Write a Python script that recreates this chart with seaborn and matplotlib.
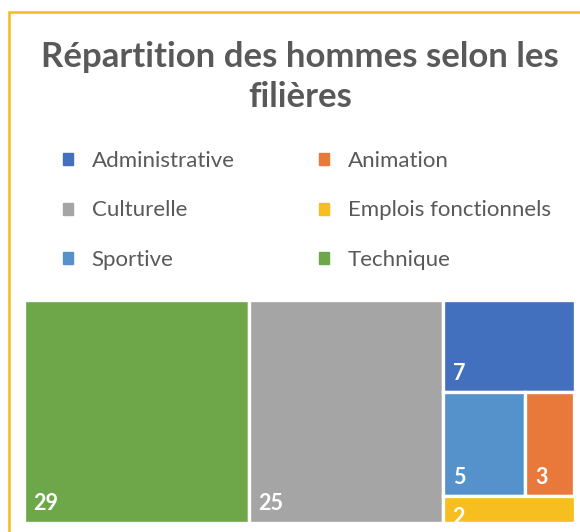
# %%
## Treemap : répartition des hommes selon les filières

import seaborn as sns
import matplotlib.pyplot as plt
from matplotlib.patches import Rectangle, Patch

# %%
## Données

filieres = ['Administrative', 'Animation', 'Culturelle',
            'Emplois fonctionnels', 'Sportive', 'Technique']
effectifs = [7, 3, 25, 2, 5, 29]
couleurs = ['#4270BE', '#E8793A', '#A5A5A5', '#F6BE1E', '#5592CB', '#6EA74A']

# organisation des blocs (h = côte à côte, v = empilés)
structure = ('h', ['Technique', 'Culturelle',
                   ('v', ['Administrative',
                          ('h', ['Sportive', 'Animation']),
                          'Emplois fonctionnels'])])

valeurs = dict(zip(filieres, effectifs))
col = dict(zip(filieres, couleurs))

# %%
def total(noeud):
    if isinstance(noeud, str):
        return valeurs[noeud]
    return sum(total(n) for n in noeud[1])

def decoupe(noeud, x, y, w, h, res):
    # y = bord haut, on descend
    if isinstance(noeud, str):
        res.append((noeud, x, y - h, w, h))
        return
    sens, enfants = noeud
    tot = total(noeud)
    for e in enfants:
        f = total(e) / tot
        if sens == 'h':
            decoupe(e, x, y, w * f, h, res)
            x += w * f
        else:
            decoupe(e, x, y, w, h * f, res)
            y -= h * f

blocs = []
decoupe(structure, 0, 1, 1, 1, blocs)

# %%
sns.set_theme(style='white')
plt.rcParams['font.family'] = ['Lato', 'DejaVu Sans']

fig = plt.figure(figsize=(5.8, 5.32), dpi=100)
gris = '#595959'

# cadre orange
fig.patches.append(Rectangle((9 / 580, -0.1), 1.2, 1 - 12 / 532 + 0.1,
                             transform=fig.transFigure, fill=False,
                             edgecolor='#F5B820', linewidth=1.8))

fig.text(0.517, 1 - 57 / 532, 'Répartition des hommes selon les',
         ha='center', va='center', fontsize=25, fontweight='bold', color=gris)
fig.text(0.517, 1 - 97 / 532, 'filières',
         ha='center', va='center', fontsize=25, fontweight='bold', color=gris)

ax_h = 222.5
ax = fig.add_axes([23.5 / 580, 9.5 / 532, 551 / 580, ax_h / 532])
for nom, x, y, w, h in blocs:
    barres = ax.bar(x, h, width=w, bottom=y, align='edge', color=col[nom],
                    edgecolor='white', linewidth=2.4)
    dy = min(12, h * ax_h - 28)  # petit bloc : étiquette coupée en bas
    t = ax.annotate(str(valeurs[nom]), (x, y), xytext=(10, dy),
                    textcoords='offset pixels', color='white',
                    fontsize=15.5, fontweight='bold', annotation_clip=False)
    t.set_clip_path(barres[0])
ax.set_xlim(0, 1)
ax.set_ylim(0, 1)
ax.axis('off')

# légende (ordre ligne par ligne)
ordre = ['Administrative', 'Culturelle', 'Sportive',
         'Animation', 'Emplois fonctionnels', 'Technique']
handles = [Patch(color=col[n], label=n) for n in ordre]
fig.legend(handles=handles, ncol=2, loc='upper left',
           bbox_to_anchor=(54 / 580, 1 - 142 / 532), frameon=False,
           fontsize=16, labelcolor=gris, handlelength=0.45, handleheight=0.45,
           handletextpad=0.85, columnspacing=3.8, labelspacing=1.33,
           borderaxespad=0)

plt.savefig('out.png', dpi=100)
